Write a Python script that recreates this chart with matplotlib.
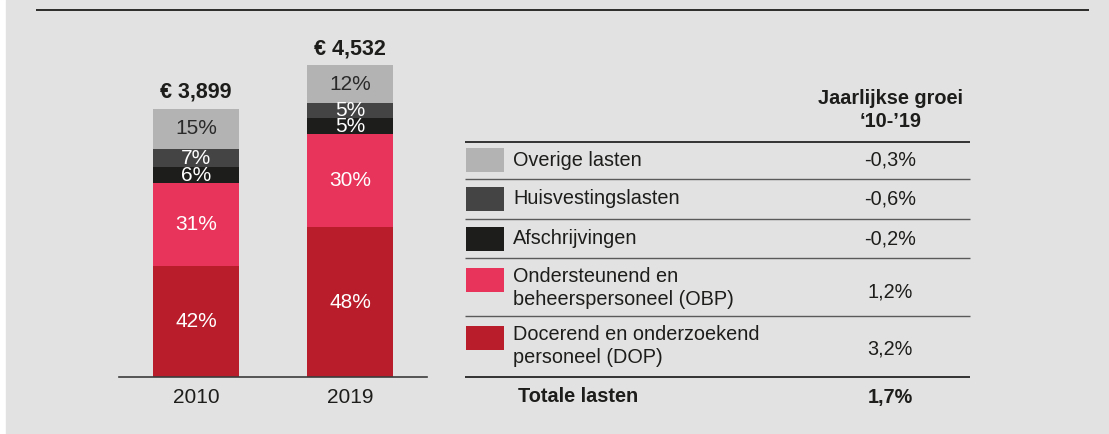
import matplotlib
matplotlib.use("Agg")
import matplotlib.pyplot as plt
from matplotlib.patches import Rectangle
import numpy as np

plt.rcParams['font.family'] = ['Liberation Sans', 'DejaVu Sans']

# ---- data ----
years = ["2010", "2019"]
totals = [3899, 4532]
categories = ["Docerend en onderzoekend\npersoneel (DOP)",
              "Ondersteunend en\nbeheerspersoneel (OBP)",
              "Afschrijvingen",
              "Huisvestingslasten",
              "Overige lasten"]
share_2010 = [42, 31, 6, 7, 15]
share_2019 = [48, 30, 5, 5, 12]
growth = ["3,2%", "1,2%", "-0,2%", "-0,6%", "-0,3%"]
total_label = "Totale lasten"
total_growth = "1,7%"
header = "Jaarlijkse groei\n\u201810-\u201919"

colors = ["#b91d2b", "#e8345a", "#1d1d1b", "#444444", "#b3b3b3"]
label_colors = ["white", "white", "white", "white", "#2a2a2a"]
BG = "#e2e2e2"
TXT = "#1d1d1b"

W, H = 1109, 434
fig = plt.figure(figsize=(W / 100, H / 100), dpi=100)
fig.patch.set_facecolor("white")

# overlay axes in pixel coordinates (background, lines, table)
ov = fig.add_axes([0, 0, 1, 1])
ov.set_xlim(0, W)
ov.set_ylim(H, 0)
ov.axis("off")
ov.add_patch(Rectangle((6, 0), W - 6, H, color=BG, zorder=0))
ov.plot([36, 1089], [10, 10], color=TXT, lw=1.3, solid_capstyle="butt")

# ---- bar chart ----
px_per_eur = 268 / 3899
ax_left, ax_right, ax_bottom, ax_top = 119, 427, 377, 20
ax = fig.add_axes([ax_left / W, (H - ax_bottom) / H,
                   (ax_right - ax_left) / W, (ax_bottom - ax_top) / H])
ax.patch.set_alpha(0)
ax.set_xlim(-0.5, 1.5)
ax.set_ylim(0, (ax_bottom - ax_top) / px_per_eur)

shares = [share_2010, share_2019]
xpos = np.arange(len(years))
bw = 86 / 154
for i, (tot, sh) in enumerate(zip(totals, shares)):
    vals = np.array(sh) / sum(sh) * tot
    bottom = 0
    for v, s, c, lc in zip(vals, sh, colors, label_colors):
        ax.bar(xpos[i], v, width=bw, bottom=bottom, color=c, linewidth=0)
        ax.text(xpos[i], bottom + v / 2, f"{s}%", ha="center", va="center",
                color=lc, fontsize=15)
        bottom += v
    ax.annotate(f"\u20ac {tot:,}", (xpos[i], tot), xytext=(0, 8),
                textcoords="offset points", ha="center", va="baseline",
                fontsize=15.5, fontweight="bold", color=TXT)

for sp in ["top", "right", "left"]:
    ax.spines[sp].set_visible(False)
ax.spines["bottom"].set_color("#3c3c3c")
ax.spines["bottom"].set_linewidth(1.2)
ax.set_yticks([])
ax.set_xticks(xpos)
ax.set_xticklabels(years, fontsize=15, color=TXT)
ax.tick_params(axis="x", length=0, pad=8)

# ---- table / legend ----
tx0, tx1 = 465, 970
val_x = 890
ov.text(891, 110, header, ha="center", va="center", fontsize=14.3,
        fontweight="bold", color=TXT, linespacing=1.3)

# row geometry (top to bottom): Overige, Huisvesting, Afschrijvingen, OBP, DOP
row_centers = [160, 199, 239, 288, 346]
swatch_tops = [148, 187, 227, 268, 326]
val_offsets = [0, 0, 0, 4, 3]
lines_y = [142, 179, 219, 258, 316, 377]
for k, y in enumerate(lines_y):
    dark = k in (0, len(lines_y) - 1)
    ov.plot([tx0, tx1], [y, y], color="#333333" if dark else "#5a5a5a",
            lw=1.4 if dark else 1.0, solid_capstyle="butt")

order = list(range(len(categories)))[::-1]
for r, ci in enumerate(order):
    ov.add_patch(Rectangle((466, swatch_tops[r]), 38, 24, color=colors[ci], lw=0))
    ov.text(513, row_centers[r], categories[ci], ha="left", va="center",
            fontsize=14.3, color=TXT, linespacing=1.22)
    ov.text(val_x, row_centers[r] + val_offsets[r], growth[ci], ha="center",
            va="center", fontsize=14.3, color=TXT)

ov.text(518, 397, total_label, ha="left", va="center", fontsize=14.3,
        fontweight="bold", color=TXT)
ov.text(val_x, 397, total_growth, ha="center", va="center", fontsize=14.3,
        fontweight="bold", color=TXT)

fig.savefig("out.png", dpi=100, facecolor=fig.get_facecolor())
